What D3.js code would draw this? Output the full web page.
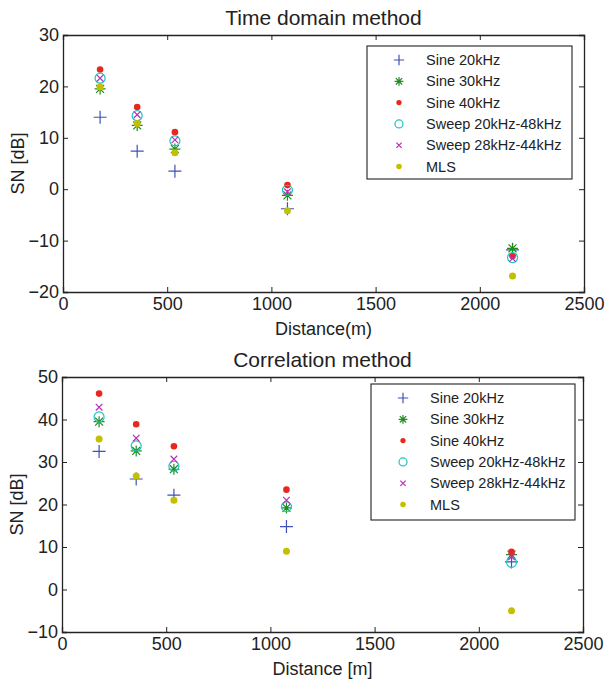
<!DOCTYPE html>
<html><head><meta charset="utf-8">
<script src="https://cdn.jsdelivr.net/npm/d3@7"></script>
<style>body{margin:0;background:#fff;} svg text{font-family:"Liberation Sans",Arial,sans-serif;fill:#222;}</style>
</head><body><svg id="c" width="606" height="681"></svg>
<script>
const distances = [178, 356, 537, 1077, 2157];
const seriesNames = ["Sine 20kHz","Sine 30kHz","Sine 40kHz","Sweep 20kHz-48kHz","Sweep 28kHz-44kHz","MLS"];
// Time domain method
const timeSine20 = [14.0, 7.4, 3.5, -3.8, -11.8];
const timeSine30 = [19.5, 12.4, 7.8, -1.2, -11.5];
const timeSine40 = [23.3, 16.0, 11.1, 0.8, -13.0];
const timeSweep2048 = [21.6, 14.3, 9.4, -0.2, -13.3];
const timeSweep2844 = [21.6, 14.5, 9.6, -0.5, -13.5];
const timeMLS = [19.9, 12.8, 7.1, -4.2, -16.9];
// Correlation method
const corrSine20 = [32.5, 26.0, 22.2, 14.8, 6.5];
const corrSine30 = [39.5, 32.6, 28.3, 19.2, 8.2];
const corrSine40 = [46.1, 38.9, 33.7, 23.5, 8.9];
const corrSweep2048 = [40.6, 33.8, 29.0, 19.5, 6.4];
const corrSweep2844 = [42.9, 35.6, 30.7, 21.0, 7.7];
const corrMLS = [35.4, 26.7, 21.0, 9.0, -5.0];
const xTicks = [0, 500, 1000, 1500, 2000, 2500];
const yTicksTime = [-20, -10, 0, 10, 20, 30];
const yTicksCorr = [-10, 0, 10, 20, 30, 40, 50];

const colors = ["#3f51b8","#1e8c1e","#e8281e","#1ec3c3","#b82eb8","#c4c000"];
const markers = ["plus","star","dot","circle","x","fdot"];

const svg = d3.select("#c");

function marker(g, type, color, x, y, legend){
  const s = legend ? 0.8 : 1;
  if(type==="plus"){
    const r=6.5*s;
    g.append("path").attr("d",`M${x-r},${y}H${x+r}M${x},${y-r}V${y+r}`).attr("stroke",color).attr("stroke-width",1.2).attr("fill","none");
  } else if(type==="star"){
    const r=5.5*s, d=r*0.72;
    g.append("path").attr("d",`M${x-r},${y}H${x+r}M${x},${y-r}V${y+r}M${x-d},${y-d}L${x+d},${y+d}M${x-d},${y+d}L${x+d},${y-d}`).attr("stroke",color).attr("stroke-width",1.2).attr("fill","none");
  } else if(type==="dot"){
    g.append("circle").attr("cx",x).attr("cy",y).attr("r",3.3*s).attr("fill",color);
  } else if(type==="fdot"){
    g.append("circle").attr("cx",x).attr("cy",y).attr("r",3.5*s).attr("fill",color);
  } else if(type==="circle"){
    g.append("circle").attr("cx",x).attr("cy",y).attr("r",5*s).attr("fill","none").attr("stroke",color).attr("stroke-width",1.2);
  } else if(type==="x"){
    const r=3.3*s;
    g.append("path").attr("d",`M${x-r},${y-r}L${x+r},${y+r}M${x-r},${y+r}L${x+r},${y-r}`).attr("stroke",color).attr("stroke-width",1.2).attr("fill","none");
  }
}

function panel(cfg){
  const {left,right,top,bottom,yDomain,yTicks,title,xlabel,series,legend} = cfg;
  const x = d3.scaleLinear().domain([0,2500]).range([left,right]);
  const y = d3.scaleLinear().domain(yDomain).range([bottom,top]);
  const g = svg.append("g");
  const ax = g.append("g").attr("transform",`translate(0,${bottom})`).call(d3.axisBottom(x).tickValues(xTicks).tickSize(-5).tickPadding(5).tickFormat(d3.format("d")));
  const axt = g.append("g").attr("transform",`translate(0,${top})`).call(d3.axisTop(x).tickValues(xTicks).tickSize(-5).tickFormat(""));
  const ay = g.append("g").attr("transform",`translate(${left},0)`).call(d3.axisLeft(y).tickValues(yTicks).tickSize(-5).tickPadding(4).tickFormat(d3.format("d")));
  const ayr = g.append("g").attr("transform",`translate(${right},0)`).call(d3.axisRight(y).tickValues(yTicks).tickSize(-5).tickFormat(""));
  [ax,axt,ay,ayr].forEach(a=>{
    a.select(".domain").attr("stroke","#222").attr("stroke-width",1.3);
    a.selectAll(".tick line").attr("stroke","#222");
    a.selectAll(".tick text").attr("font-size",18).attr("fill","#222").attr("font-family","Liberation Sans, Arial, sans-serif");
  });
  g.append("text").attr("x",(left+right)/2).attr("y",top-10).attr("text-anchor","middle").attr("font-size",21).text(title);
  g.append("text").attr("x",(left+right)/2).attr("y",bottom+43).attr("text-anchor","middle").attr("font-size",18).text(xlabel);
  g.append("text").attr("transform",`translate(${left-39},${(top+bottom)/2}) rotate(-90)`).attr("text-anchor","middle").attr("font-size",18).text("SN [dB]");
  series.forEach((vals,i)=>{
    vals.forEach((v,j)=> marker(g, markers[i], colors[i], x(distances[j]), y(v), false));
  });
  const lg = g.append("g");
  lg.append("rect").attr("x",legend.x).attr("y",legend.y).attr("width",legend.w).attr("height",legend.h).attr("fill","#fff").attr("stroke","#222").attr("stroke-width",1.1);
  seriesNames.forEach((n,i)=>{
    const yy = legend.y + 14 + i*21.3;
    marker(lg, markers[i], colors[i], legend.x+32, yy, true);
    lg.append("text").attr("x",legend.x+59).attr("y",yy+5).attr("font-size",14.5).text(n);
  });
}

panel({left:63,right:584,top:35,bottom:292,yDomain:[-20,30],yTicks:yTicksTime,title:"Time domain method",xlabel:"Distance(m)",
  series:[timeSine20,timeSine30,timeSine40,timeSweep2048,timeSweep2844,timeMLS],
  legend:{x:367,y:46,w:205,h:133}});
panel({left:62,right:583,top:377,bottom:632,yDomain:[-10,50],yTicks:yTicksCorr,title:"Correlation method",xlabel:"Distance [m]",
  series:[corrSine20,corrSine30,corrSine40,corrSweep2048,corrSweep2844,corrMLS],
  legend:{x:371,y:384,w:204,h:136}});
</script></body></html>
